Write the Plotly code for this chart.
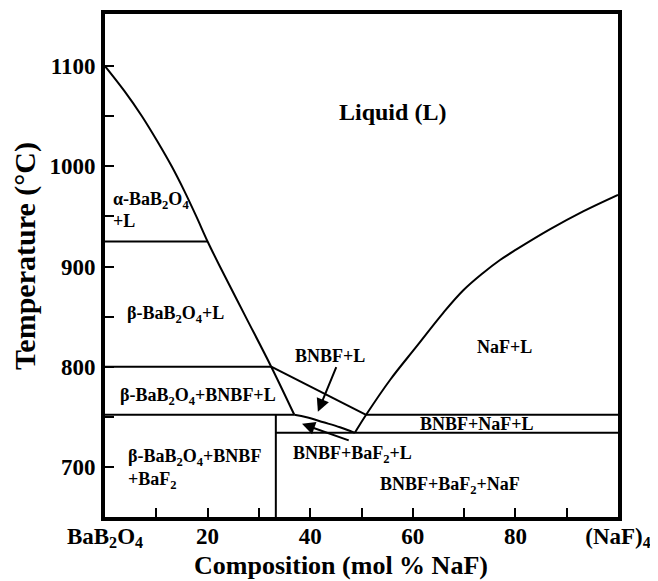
import plotly.graph_objects as go

# ---------------- data (composition in mol % NaF, temperature in °C) ----------------
# BaB2O4 liquidus (alpha / beta BaB2O4 + L boundary)
bbo_liq_x = [0, 3.8, 7.2, 10.2, 13.0, 15.5, 17.8, 20.0, 22.4, 27.4, 32.4, 36.9]
bbo_liq_t = [1100, 1075, 1050, 1025, 1000, 975, 950, 925, 900, 850, 800, 752]

# BNBF liquidus (peritectic at 800 down to 752)
bnbf_liq_x = [32.4, 50.9]
bnbf_liq_t = [800, 752]

# BaF2 liquidus (from 752 down to the eutectic)
baf2_liq_x = [36.9, 39.3, 42.6, 45.8, 48.7]
baf2_liq_t = [752, 749.5, 744.5, 739.5, 734]

# NaF liquidus
naf_liq_x = [48.7, 50.9, 55.6, 60.7, 65.9, 69.8, 73.7, 77.0, 80.2, 86.7, 93.2, 100]
naf_liq_t = [734, 752, 787, 820, 853.5, 876, 893.5, 906.5, 917, 937, 955, 971.5]

# isotherms / invariant lines
alpha_beta_x = [0, 20.0]
alpha_beta_t = [925, 925]
peritectic_x = [0, 32.4]
peritectic_t = [800, 800]
inv752_left_x = [0, 36.9]
inv752_left_t = [752, 752]
inv752_right_x = [50.9, 100]
inv752_right_t = [752, 752]
eutectic_x = [33.3, 100]
eutectic_t = [734, 734]
bnbf_comp_x = [33.3, 33.3]
bnbf_comp_t = [650, 752]

# axis ticks
x_tickvals = [0, 10, 20, 30, 40, 50, 60, 70, 80, 90, 100]
x_ticktext = ["BaB<sub>2</sub>O<sub>4</sub>", "", "20", "", "40", "", "60", "", "80", "",
              "(NaF)<sub>4</sub>"]
y_tickvals = [700, 750, 800, 850, 900, 950, 1000, 1050, 1100]
y_ticktext = ["700", "", "800", "", "900", "", "1000", "", "1100"]

x_title = "Composition (mol % NaF)"
y_title = "Temperature (°C)"

# phase-field labels: (text, composition, temperature, anchor, font size)
labels = [
    ("Liquid (L)", 56.1, 1054, "center", 24),
    ("α-BaB<sub>2</sub>O<sub>4</sub>", 1.2, 966, "left", 18),
    ("+L", 1.2, 945, "left", 18),
    ("β-BaB<sub>2</sub>O<sub>4</sub>+L", 3.9, 852, "left", 18),
    ("β-BaB<sub>2</sub>O<sub>4</sub>+BNBF+L", 18.2, 770, "center", 18),
    ("β-BaB<sub>2</sub>O<sub>4</sub>+BNBF", 4.0, 709, "left", 18),
    ("+BaF<sub>2</sub>", 4.0, 686, "left", 18),
    ("BNBF+L", 43.9, 811, "center", 18),
    ("BNBF+BaF<sub>2</sub>+L", 48.3, 712, "center", 18),
    ("NaF+L", 77.8, 820, "center", 18),
    ("BNBF+NaF+L", 72.5, 743, "center", 18),
    ("BNBF+BaF<sub>2</sub>+NaF", 67.3, 681, "center", 18),
]

# pointer arrows: (tail x, tail t, head x, head t)
arrows = [
    (45.2, 801, 41.5, 755),
    (47.8, 726, 38.4, 743),
]

FONT = "Liberation Serif, Times New Roman, serif"

fig = go.Figure()
segments = [
    (bbo_liq_x, bbo_liq_t, "spline"),
    (bnbf_liq_x, bnbf_liq_t, "linear"),
    (baf2_liq_x, baf2_liq_t, "spline"),
    (naf_liq_x, naf_liq_t, "spline"),
    (alpha_beta_x, alpha_beta_t, "linear"),
    (peritectic_x, peritectic_t, "linear"),
    (inv752_left_x, inv752_left_t, "linear"),
    (inv752_right_x, inv752_right_t, "linear"),
    (eutectic_x, eutectic_t, "linear"),
    (bnbf_comp_x, bnbf_comp_t, "linear"),
]
for xs, ts, shape in segments:
    fig.add_trace(go.Scatter(x=xs, y=ts, mode="lines",
                             line=dict(color="black", width=2, shape=shape),
                             showlegend=False, hoverinfo="skip"))

annotations = []
for text, cx, ct, anchor, size in labels:
    annotations.append(dict(x=cx, y=ct, xref="x", yref="y", text=text, showarrow=False,
                            xanchor=anchor, yanchor="middle",
                            font=dict(family=FONT, size=size, color="black", weight="bold")))
for tx, tt, hx, ht in arrows:
    annotations.append(dict(x=hx, y=ht, ax=tx, ay=tt, xref="x", yref="y", axref="x", ayref="y",
                            text="", showarrow=True, arrowhead=2, arrowsize=1.3,
                            arrowwidth=2, arrowcolor="black"))
# axis titles
annotations.append(dict(x=0.46, y=-0.096, xref="paper", yref="paper", text=x_title,
                        showarrow=False, xanchor="center", yanchor="middle",
                        font=dict(family=FONT, size=26, color="black", weight="bold")))
annotations.append(dict(x=-0.156, y=0.519, xref="paper", yref="paper", text=y_title,
                        showarrow=False, xanchor="center", yanchor="middle", textangle=-90,
                        font=dict(family=FONT, size=30, color="black", weight="bold")))

# the page body has an 8 px default margin, so the figure is sized to fit the window
fig.update_layout(
    width=650, height=573,
    margin=dict(l=97, r=40, t=6, b=64),
    paper_bgcolor="white", plot_bgcolor="white",
    font=dict(family=FONT, size=23, color="black", weight="bold"),
    annotations=annotations,
    showlegend=False,
)
fig.update_xaxes(
    range=[0, 100], tickvals=x_tickvals, ticktext=x_ticktext,
    ticks="inside", ticklen=9, tickwidth=2, tickcolor="black",
    showline=True, linewidth=4, linecolor="black", mirror=True,
    showgrid=False, zeroline=False, ticklabelstandoff=-5, automargin=False,
)
fig.update_yaxes(
    range=[650, 1152], tickvals=y_tickvals, ticktext=y_ticktext,
    ticks="inside", ticklen=9, tickwidth=2, tickcolor="black",
    showline=True, linewidth=4, linecolor="black", mirror=True,
    showgrid=False, zeroline=False, ticklabelstandoff=1, automargin=False,
)

fig.write_html("out.html")
